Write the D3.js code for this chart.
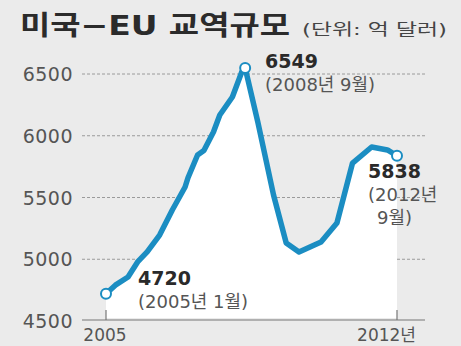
<!DOCTYPE html>
<html>
<head>
<meta charset="utf-8">
<script src="https://cdn.jsdelivr.net/npm/d3@7"></script>
<style>
  body { margin: 0; background: #ebebeb; }
  svg { display: block; }
  text { font-family: "DejaVu Sans", "Noto Sans CJK KR", sans-serif; }
</style>
</head>
<body>
<div class="chart"></div>
<script>

// monthly points (억 달러)
const dates = ["2005-01", "2005-04", "2005-08", "2005-11", "2006-02", "2006-06", "2006-10",
    "2007-02", "2007-03", "2007-06", "2007-08", "2007-11", "2008-01", "2008-05", "2008-08",
    "2008-09", "2009-01", "2009-06", "2009-10", "2010-02", "2010-09", "2011-02", "2011-07",
    "2012-01", "2012-06", "2012-09"];
const values = [4720, 4790, 4856, 4978, 5059, 5196, 5399,
    5585, 5660, 5844, 5880, 6030, 6168, 6314, 6520,
    6549, 6111, 5520, 5132, 5059, 5140, 5293, 5779,
    5909, 5885, 5838];
const yTicks = [4500, 5000, 5500, 6000, 6500];
const xLabels = ["2005", "2012년"];

const width = 461;
const height = 346;

const svg = d3.select(".chart")
    .append("svg")
    .attr("width", width)
    .attr("height", height);

svg.append("rect")
    .attr("width", width)
    .attr("height", height)
    .attr("fill", "#ebebeb");

const parse = d3.timeParse("%Y-%m");
const data = dates.map(function (d, i) { return { date: parse(d), value: values[i] }; });

const x = d3.scaleTime()
    .domain([parse("2005-01"), parse("2012-09")])
    .range([106, 397]);

const y = d3.scaleLinear()
    .domain([4500, 6500])
    .range([321, 74]);

// dotted grid
svg.append("g")
    .selectAll("line")
    .data(yTicks.slice(1))
    .enter()
    .append("line")
        .attr("x1", 82)
        .attr("x2", 425)
        .attr("y1", function (d) { return y(d); })
        .attr("y2", function (d) { return y(d); })
        .attr("stroke", "#9a9a9a")
        .attr("stroke-width", 1)
        .attr("stroke-dasharray", "3,2");

// y labels
svg.append("g")
    .selectAll("text")
    .data(yTicks)
    .enter()
    .append("text")
        .attr("x", 73)
        .attr("y", function (d) { return y(d) + 7; })
        .attr("text-anchor", "end")
        .attr("font-size", 19)
        .attr("letter-spacing", 0.5)
        .attr("fill", "#555")
        .text(function (d) { return d; });

// white area under the line
const area = d3.area()
    .x(function (d) { return x(d.date); })
    .y0(y(4500) - 3)
    .y1(function (d) { return y(d.value); });

svg.append("path")
    .datum(data)
    .attr("d", area)
    .attr("fill", "#ffffff");

// x axis
const xAxis = svg.append("g");
xAxis.append("line")
    .attr("x1", 82).attr("x2", 425)
    .attr("y1", 320).attr("y2", 320)
    .attr("stroke", "#777").attr("stroke-width", 1.2);
xAxis.selectAll(".tick")
    .data([parse("2005-01"), parse("2012-09")])
    .enter()
    .append("line")
        .attr("x1", function (d) { return x(d); })
        .attr("x2", function (d) { return x(d); })
        .attr("y1", 310).attr("y2", 320)
        .attr("stroke", "#777").attr("stroke-width", 1.2);
xAxis.append("text")
    .attr("x", 105).attr("y", 341)
    .attr("text-anchor", "middle")
    .attr("font-size", 17)
    .attr("fill", "#555")
    .text(xLabels[0]);
xAxis.append("text")
    .attr("x", 416).attr("y", 341)
    .attr("text-anchor", "end")
    .attr("font-size", 17)
    .attr("fill", "#555")
    .text(xLabels[1]);

// the line
const line = d3.line()
    .x(function (d) { return x(d.date); })
    .y(function (d) { return y(d.value); });

svg.append("path")
    .datum(data)
    .attr("d", line)
    .attr("fill", "none")
    .attr("stroke", "#1b8dc2")
    .attr("stroke-width", 5.5)
    .attr("stroke-linejoin", "round");

// end markers
const marks = [data[0], data[15], data[data.length - 1]];
svg.append("g")
    .selectAll("circle")
    .data(marks)
    .enter()
    .append("circle")
        .attr("cx", function (d) { return x(d.date); })
        .attr("cy", function (d) { return y(d.value); })
        .attr("r", 5)
        .attr("fill", "#fff")
        .attr("stroke", "#1b8dc2")
        .attr("stroke-width", 2);

// annotations
function note(px, py, val, lines) {
    svg.append("text")
        .attr("x", px).attr("y", py)
        .attr("font-size", 19)
        .attr("font-weight", "bold")
        .attr("fill", "#2a2a2a")
        .text(val);
    lines.forEach(function (s, i) {
        svg.append("text")
            .attr("x", s.dx + px).attr("y", py + 23 * (i + 1))
            .attr("font-size", 18)
            .attr("fill", "#555")
            .text(s.t);
    });
}
note(138, 285, "4720", [{ t: "(2005년 1월)", dx: 0 }]);
note(265, 68, "6549", [{ t: "(2008년 9월)", dx: 0 }]);
note(368, 178, "5838", [{ t: "(2012년", dx: 0 }, { t: "9월)", dx: 9 }]);

// title
svg.append("text")
    .attr("x", 20).attr("y", 35)
    .attr("font-family", "'Noto Sans CJK KR', sans-serif")
    .attr("font-size", 27)
    .attr("font-weight", "bold")
    .attr("fill", "#2b2b2b")
    .attr("textLength", 270)
    .attr("lengthAdjust", "spacingAndGlyphs")
    .text("미국−EU 교역규모");
svg.append("text")
    .attr("x", 302).attr("y", 35)
    .attr("font-family", "'Noto Sans CJK KR', sans-serif")
    .attr("font-size", 16)
    .attr("fill", "#444")
    .attr("textLength", 145)
    .attr("lengthAdjust", "spacingAndGlyphs")
    .text("(단위: 억 달러)");

</script>
</body>
</html>
